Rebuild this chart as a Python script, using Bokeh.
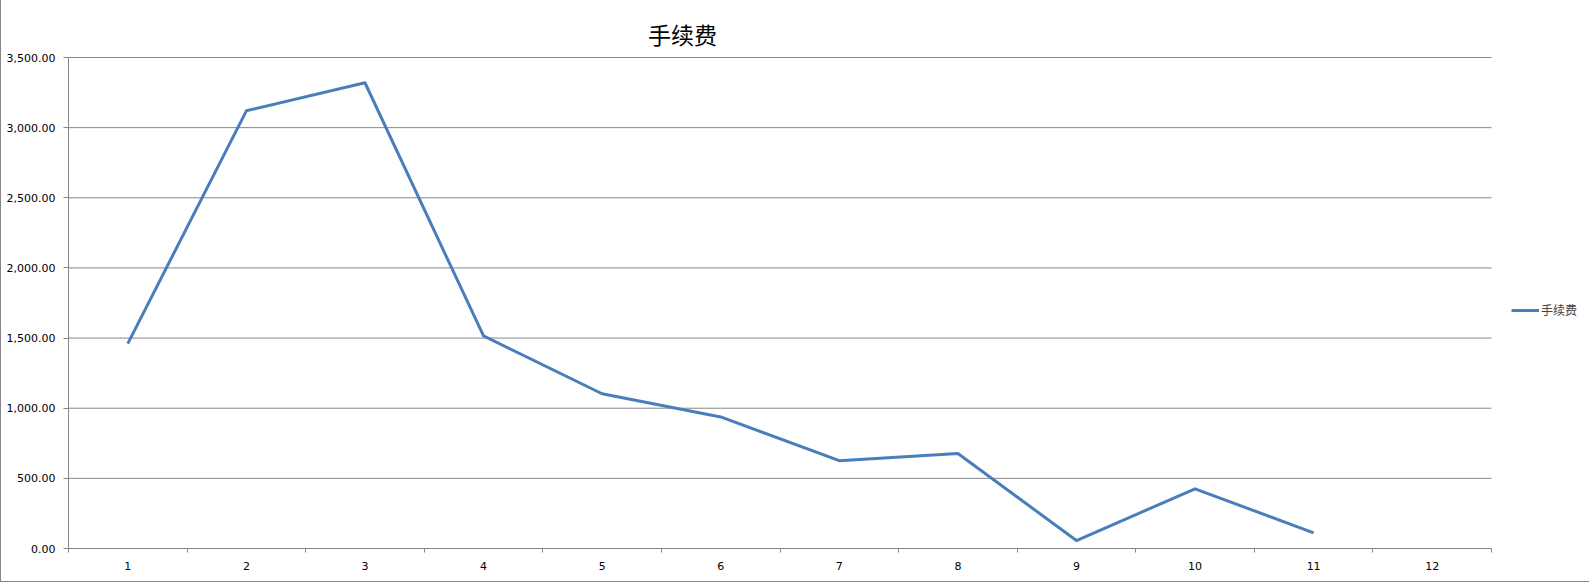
from bokeh.plotting import figure
from bokeh.models import (FixedTicker, NumeralTickFormatter, Range1d, Label,
                          Legend, LegendItem)
from bokeh.embed import file_html
from bokeh.resources import INLINE

# Monthly handling fees (month 12 has no data yet)
months = [1, 2, 3, 4, 5, 6, 7, 8, 9, 10, 11]
fees = [1460, 3120, 3320, 1515, 1103, 938, 626, 677, 57, 425, 112]
month_labels = ["1", "2", "3", "4", "5", "6", "7", "8", "9", "10", "11", "12"]
y_ticks = [0, 500, 1000, 1500, 2000, 2500, 3000, 3500]
series_name = "手续费"

GRID = "#868686"
LINE = "#4a7ebb"

# The plotting frame spans the whole canvas above/right of the axes so that the
# title and legend can live inside it; the axes and grid are bounded to the data area.
X_LO, X_HI = 0.5, 12.5
Y_LO, Y_HI = 0, 3500
px_per_x = 1423 / (X_HI - X_LO)
px_per_y = 491 / (Y_HI - Y_LO)

p = figure(width=1589, height=582, output_backend="svg", toolbar_location=None,
           x_range=Range1d(X_LO, X_HI + 99 / px_per_x),
           y_range=Range1d(Y_LO, Y_HI + 57 / px_per_y),
           min_border_left=67, min_border_right=0, min_border_top=0,
           min_border_bottom=34)
p.styles = {"border-left": f"1px solid {GRID}", "border-bottom": f"1px solid {GRID}"}
p.outline_line_color = None
p.background_fill_color = "white"
p.border_fill_color = "white"

# horizontal gridlines across the data area only
p.xgrid.grid_line_color = None
p.ygrid.grid_line_color = None
p.segment(x0=[X_LO] * len(y_ticks), x1=[X_HI] * len(y_ticks), y0=y_ticks, y1=y_ticks,
          line_color=GRID, line_width=1)

line = p.line(months, fees, line_color=LINE, line_width=3, line_join="round")

# category axis: labels at centres, tick marks at the boundaries
xa = p.xaxis[0]
xa.bounds = (X_LO, X_HI)
xa.ticker = FixedTicker(ticks=list(range(1, 13)),
                        minor_ticks=[i + 0.5 for i in range(0, 13)])
xa.major_label_overrides = {i + 1: s for i, s in enumerate(month_labels)}
xa.major_tick_out = 0
xa.major_tick_in = 0
xa.minor_tick_out = 4
xa.minor_tick_in = 0
xa.minor_tick_line_color = GRID
xa.axis_line_color = GRID
xa.major_label_standoff = 9
xa.major_label_text_font = "DejaVu Sans"
xa.major_label_text_font_size = "11px"
xa.major_label_text_color = "black"

ya = p.yaxis[0]
ya.bounds = (Y_LO, Y_HI)
ya.ticker = FixedTicker(ticks=y_ticks)
ya.formatter = NumeralTickFormatter(format="0,0.00")
ya.major_tick_out = 5
ya.major_tick_in = 0
ya.minor_tick_line_color = None
ya.major_tick_line_color = GRID
ya.axis_line_color = GRID
ya.major_label_standoff = 8
ya.major_label_text_font = "DejaVu Sans"
ya.major_label_text_font_size = "11px"
ya.major_label_text_color = "black"

title = Label(x=X_LO + 614 / px_per_x, y=Y_HI + 24 / px_per_y, text=series_name,
              text_align="center", text_baseline="middle",
              text_font="Noto Sans CJK SC", text_font_size="23px", text_color="black")
p.add_layout(title)

legend = Legend(items=[LegendItem(label=series_name, renderers=[line])],
                location=(1443, 230), padding=0, margin=0, spacing=0,
                glyph_width=28, glyph_height=14, label_standoff=2,
                label_text_font="Noto Sans CJK SC", label_text_font_size="12px",
                border_line_alpha=0, background_fill_alpha=0)
p.add_layout(legend)

open("out.html", "w").write(file_html(p, INLINE))
